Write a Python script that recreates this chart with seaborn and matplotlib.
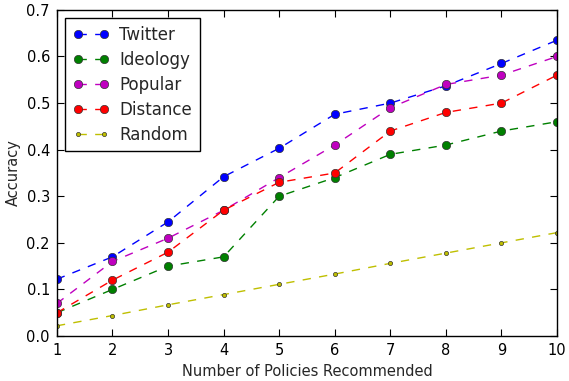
import pandas as pd
import seaborn as sns
import matplotlib.pyplot as plt

# values
n_policies = [1, 2, 3, 4, 5, 6, 7, 8, 9, 10]
twitter = [0.122, 0.17, 0.245, 0.342, 0.403, 0.476, 0.50, 0.537, 0.585, 0.635]
ideology = [0.05, 0.10, 0.15, 0.17, 0.30, 0.34, 0.39, 0.41, 0.44, 0.46]
popular = [0.07, 0.16, 0.21, 0.27, 0.34, 0.41, 0.49, 0.54, 0.56, 0.60]
distance = [0.05, 0.12, 0.18, 0.27, 0.33, 0.35, 0.44, 0.48, 0.50, 0.56]
random_acc = [0.022, 0.044, 0.067, 0.089, 0.111, 0.133, 0.156, 0.178, 0.20, 0.222]

sns.set_style("ticks")
plt.rcParams['font.family'] = ['DejaVu Sans']

fig = plt.figure(figsize=(5.69, 3.81), dpi=100)
ax = fig.add_axes([0.1, 0.118, 0.879, 0.856])

series = [
    ('Twitter', twitter, 'b', 'o', 6),
    ('Ideology', ideology, 'g', 'o', 6),
    ('Popular', popular, 'm', 'o', 6),
    ('Distance', distance, 'r', 'o', 6),
    ('Random', random_acc, 'y', '.', 6),
]
for name, vals, col, mk, ms in series:
    df = pd.DataFrame({'x': n_policies, 'y': vals})
    sns.lineplot(data=df, x='x', y='y', ax=ax, color=col, marker=mk, markersize=ms,
                 linestyle='--', dashes=False, linewidth=1, label=name,
                 markeredgecolor='#333333', markeredgewidth=0.5)
    ax.lines[-1].set_linestyle((0, (6, 6)))
    ax.lines[-1].set_color(col)

ax.set_xlim(1, 10)
ax.set_ylim(0, 0.7)
ax.set_xticks(range(1, 11))
ax.set_yticks([0.0, 0.1, 0.2, 0.3, 0.4, 0.5, 0.6, 0.7])
ax.set_yticklabels(['0.0', '0.1', '0.2', '0.3', '0.4', '0.5', '0.6', '0.7'])
ax.tick_params(direction='in', top=True, right=True, length=5, width=0.8,
               labelsize=10.5, colors='black', pad=5)
for s in ax.spines.values():
    s.set_color('black')
    s.set_linewidth(1)
ax.set_xlabel('Number of Policies Recommended', fontsize=10.5)
ax.set_ylabel('Accuracy', fontsize=10.5)

leg = ax.legend(loc='upper left', numpoints=2, fancybox=False, fontsize=12,
                edgecolor='black', framealpha=1, borderpad=0.45, labelspacing=0.42,
                handlelength=2.2, handletextpad=0.6)
leg.get_frame().set_linewidth(1)

fig.savefig('out.png', dpi=100)
